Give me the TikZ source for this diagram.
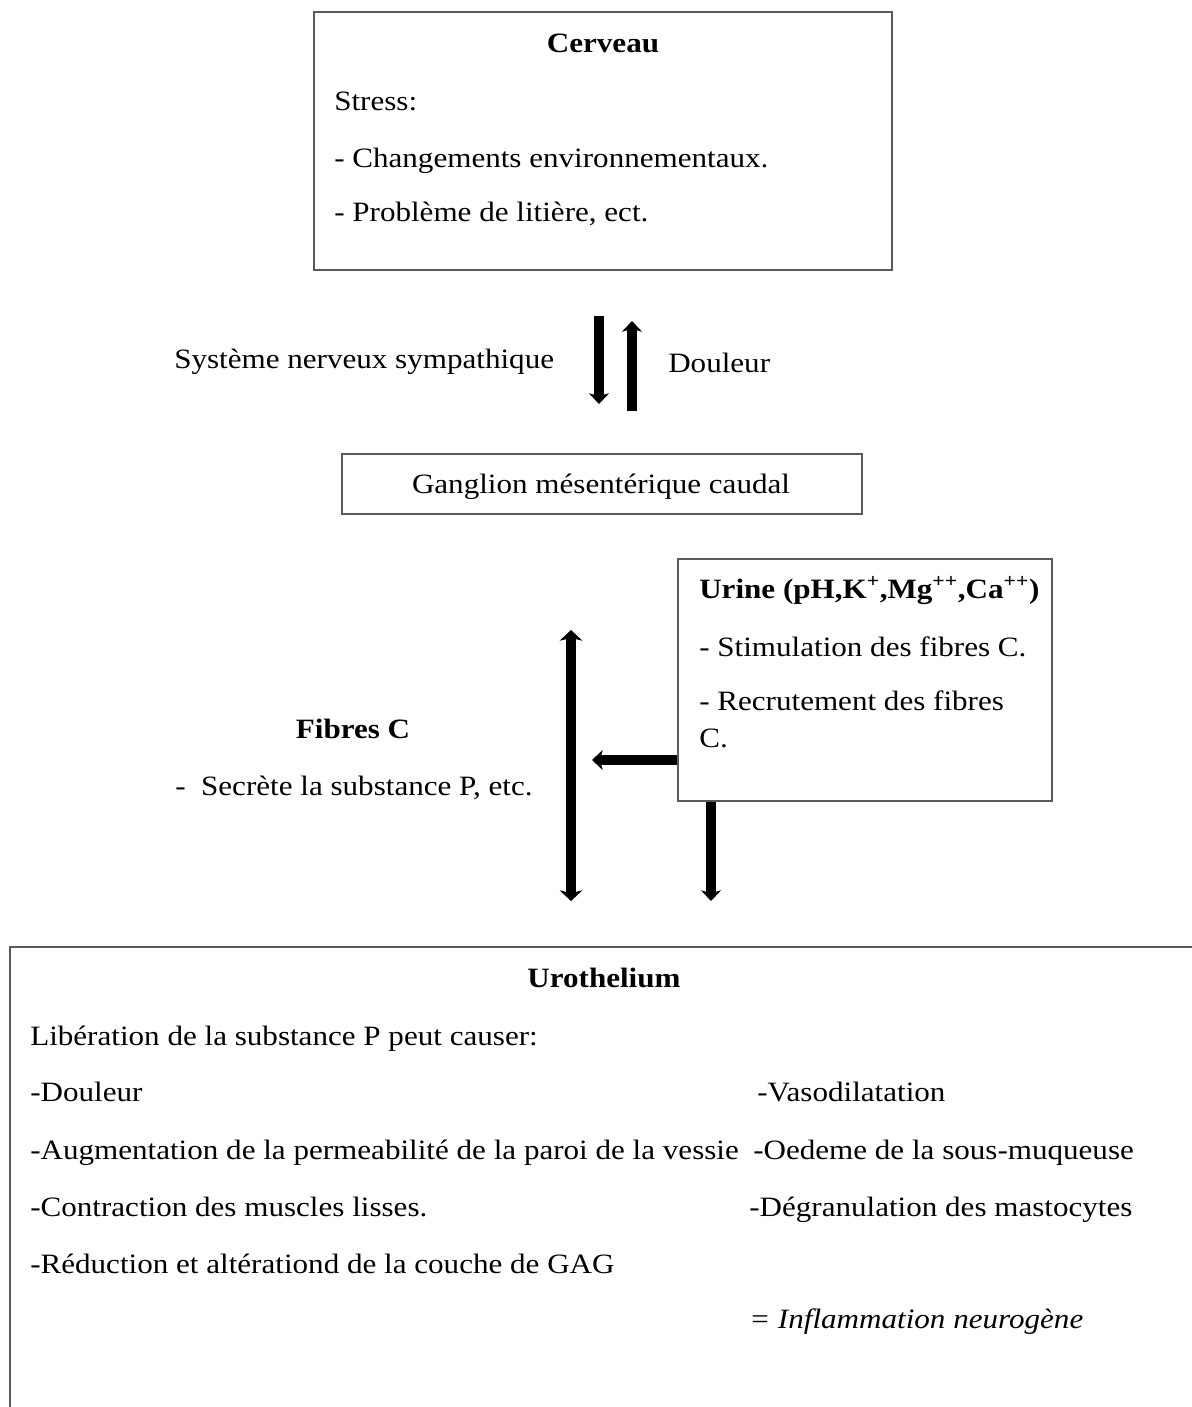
\documentclass[tikz,border=0pt]{standalone}
\usepackage{fontspec}
\setmainfont{Liberation Serif}[FakeStretch=1.11]
\usetikzlibrary{arrows.meta}
\begin{document}
\begin{tikzpicture}[x=0.75pt,y=-0.75pt,
  box/.style={draw={rgb,255:red,90;green,90;blue,90},line width=1.4pt,fill=white,inner sep=0pt},
  txt/.style={anchor=base west,inner sep=0pt,font=\fontsize{21}{25}\selectfont},
  ctxt/.style={anchor=base,inner sep=0pt,font=\fontsize{21}{25}\selectfont},
  arr/.style={line width=6.8pt,-{Stealth[length=8pt,width=15pt,inset=2pt]}},
  darr/.style={line width=6.8pt,{Stealth[length=8pt,width=17pt,inset=2pt]}-{Stealth[length=8pt,width=17pt,inset=2pt]}}]
\useasboundingbox (0,0) rectangle (1192,1407);
% boxes
\node[box,minimum width=578*0.75pt,minimum height=258*0.75pt] (cerveau) at (603,141) {};
\node[box,minimum width=520*0.75pt,minimum height=60*0.75pt] (ganglion) at (602,484) {};
\node[box,minimum width=374*0.75pt,minimum height=242*0.75pt] (urine) at (865,680) {};
\draw[draw={rgb,255:red,90;green,90;blue,90},line width=1.4pt] (1192,947) -- (10,947) -- (10,1407);
% Cerveau text
\node[ctxt,font=\fontsize{21}{25}\selectfont\bfseries] (tcerv) at (603,52) {Cerveau};
\node[txt] (stress) at (334,110) {Stress:};
\node[txt] (chg) at (334,167) {- Changements environnementaux.};
\node[txt] (prob) at (334,221) {- Problème de litière, ect.};
% middle
\node[txt] (sns) at (174,368) {Système nerveux sympathique};
\node[txt] (doul) at (668,372) {Douleur};
\node[ctxt] (tgang) at (601,493) {Ganglion mésentérique caudal};
\coordinate (d1s) at (599,316); \coordinate (d1e) at (599,404);
\coordinate (u1s) at (632,411); \coordinate (u1e) at (632,321);
\draw[arr] (d1s) -- (d1e);
\draw[arr] (u1s) -- (u1e);
% urine
\node[txt,font=\fontsize{21}{25}\selectfont\bfseries] (turine) at (699,598) {Urine (pH,K\textsuperscript{+},Mg\textsuperscript{++},Ca\textsuperscript{++})};
\node[txt] (stim) at (699,656) {- Stimulation des fibres C.};
\node[txt] (recr) at (699,710) {- Recrutement des fibres};
\node[txt] (recr2) at (699,747) {C.};
% fibres
\node[ctxt,font=\fontsize{21}{25}\selectfont\bfseries] (fib) at (353,738) {Fibres C};
\node[txt] (secr) at (175,795) {-\ \ Secrète la substance P, etc.};
\coordinate (da) at (571,630); \coordinate (db) at (571,901);
\draw[darr] (da) -- (db);
\coordinate (fl) at (592,760);
\draw[arr] (urine.west |- fl) -- (fl);
\coordinate (ud) at (711,901);
\draw[arr] (urine.south -| ud) -- (ud);
% urothelium
\node[ctxt,font=\fontsize{21}{25}\selectfont\bfseries] (turo) at (604,987) {Urothelium};
\node[txt] (lib) at (30,1045) {Libération de la substance P peut causer:};
\node[txt] (l1) at (30,1101) {-Douleur};
\node[txt] (l2) at (30,1159) {-Augmentation de la permeabilité de la paroi de la vessie};
\node[txt] (l3) at (30,1216) {-Contraction des muscles lisses.};
\node[txt] (l4) at (30,1273) {-Réduction et altérationd de la couche de GAG};
\node[txt] (r1) at (757,1101) {-Vasodilatation};
\node[txt] (r2) at (753,1159) {-Oedeme de la sous-muqueuse};
\node[txt] (r3) at (749,1216) {-Dégranulation des mastocytes};
\node[txt,font=\fontsize{21}{25}\selectfont\itshape] (r4) at (749,1328) {= Inflammation neurogène};
\end{tikzpicture}
\end{document}
